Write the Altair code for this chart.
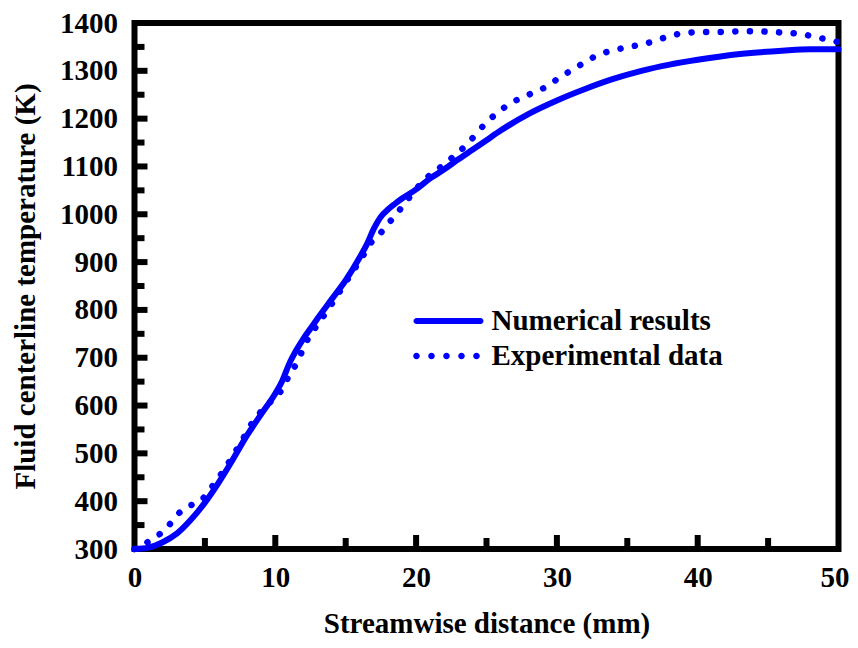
import altair as alt
import pandas as pd

# Numerical results (solid)
num_x = [0, 1, 2, 3, 4, 5, 6, 7, 8, 9, 10, 10.5, 11, 11.5, 12, 12.5, 13, 14, 15, 16, 16.5,
         17, 17.5, 18, 18.5, 19, 20, 21, 22, 23, 24, 25, 26, 28, 30, 32, 34, 36, 38, 40, 43, 46, 48, 50]
num_t = [300, 303, 314, 332, 361, 397, 440, 488, 538, 582, 625, 652, 688, 716, 740, 761, 782, 822, 862, 910, 937,
         970, 995, 1010, 1022, 1033, 1052, 1075, 1094, 1115, 1135, 1155, 1175, 1210, 1238, 1262, 1283, 1300,
         1313, 1323, 1335, 1342, 1345, 1345]

# Experimental data (dotted)
exp_x = [0, 0.85, 1.6, 2.3, 2.9, 3.7, 4.6, 5.5, 6.5, 7.5, 8.5, 9.5, 10.5, 11, 11.5, 11.9, 12.4, 12.9, 14, 15, 16.2, 16.7,
         17.4, 18.1, 18.7, 19.3, 20.5, 22.1, 23.6, 25, 26.5, 28.3, 29.2, 29.9, 30.8, 31.7, 32.5, 33.4, 34.3, 35.3,
         36.3, 37.3, 38.3, 39.4, 40.4, 41.4, 43.5, 45.4, 47.5, 48.5, 49.4, 50]
exp_t = [300, 313, 327, 344, 367, 388, 398, 430, 472, 520, 570, 603, 635, 664, 688, 713, 744, 765, 812, 858, 912, 937,
         958, 983, 1004, 1027, 1069, 1107, 1146, 1192, 1228, 1254, 1266, 1280, 1297, 1313, 1327, 1338, 1345, 1351,
         1357, 1366, 1375, 1380, 1381, 1381, 1383, 1381, 1376, 1370, 1364, 1360]

series_names = ["Numerical results", "Experimental data"]

x_major = [10, 20, 30, 40]
x_minor = [5, 15, 25, 35, 45]
y_major = [400, 500, 600, 700, 800, 900, 1000, 1100, 1200, 1300]
y_minor = [350, 450, 550, 650, 750, 850, 950, 1050, 1150, 1250, 1350]
x_labels = [0, 10, 20, 30, 40, 50]
y_labels = [300, 400, 500, 600, 700, 800, 900, 1000, 1100, 1200, 1300, 1400]

df = pd.concat([
    pd.DataFrame({"x": num_x, "t": num_t, "series": series_names[0], "order": range(len(num_x))}),
    pd.DataFrame({"x": exp_x, "t": exp_t, "series": series_names[1], "order": range(len(exp_x))}),
])

W, H = 704, 526
FONT = "Liberation Serif"
FS = 29
BLUE = "#0000ff"

xscale = alt.Scale(domain=[0, 50], nice=False, zero=False)
yscale = alt.Scale(domain=[300, 1400], nice=False, zero=False)

xaxis = alt.Axis(values=x_labels, format="d", ticks=False, tickSize=0, domain=False, grid=False,
                 labelFlush=False, labelPadding=14, titlePadding=17, title="Streamwise distance (mm)",
                 labelOffset={"condition": {"test": "datum.value === 50", "value": -4}, "value": 0})
yaxis = alt.Axis(values=y_labels, format="d", ticks=False, tickSize=0, domain=False, grid=False,
                 labelFlush=False, labelPadding=17, titlePadding=19, title="Fluid centerline temperature (K)")

# legend symbol shapes (unit = 18 px, symbol box starts at -1)
solid_path = ("M-0.833,-0.1667 H2.722 A0.1667,0.1667 0 0 1 2.722,0.1667 "
              "H-0.833 A0.1667,0.1667 0 0 1 -0.833,-0.1667 Z")
r = 0.183
dot_centers = [-0.833, 0.0, 0.833, 1.667, 2.5]
dots_path = " ".join(
    f"M{c - r:.3f},0 A{r},{r} 0 1,0 {c + r:.3f},0 A{r},{r} 0 1,0 {c - r:.3f},0 Z" for c in dot_centers
)

base = alt.Chart(df)

solid = base.transform_filter(alt.datum.series == series_names[0]).mark_line(
    strokeWidth=6, strokeCap="round", interpolate="monotone", color=BLUE
).encode(
    x=alt.X("x:Q", scale=xscale, axis=xaxis),
    y=alt.Y("t:Q", scale=yscale, axis=yaxis),
    order="order:Q",
)

dotted = base.transform_filter(alt.datum.series == series_names[1]).mark_line(
    strokeWidth=6.5, strokeCap="round", strokeDash=[0.1, 14.5], interpolate="monotone", color=BLUE
).encode(
    x=alt.X("x:Q", scale=xscale, axis=xaxis),
    y=alt.Y("t:Q", scale=yscale, axis=yaxis),
    order="order:Q",
)

legend_df = pd.DataFrame({"series": series_names, "x": [None, None], "t": [None, None]})
legend_layer = alt.Chart(legend_df).mark_point(filled=True, color=BLUE, opacity=1).encode(
    x=alt.X("x:Q", scale=xscale, axis=xaxis),
    y=alt.Y("t:Q", scale=yscale, axis=yaxis),
    shape=alt.Shape("series:N", scale=alt.Scale(domain=series_names, range=[solid_path, dots_path]),
                    legend=alt.Legend(
                        title=None, orient="none", legendX=279, legendY=280,
                        symbolSize=1296, symbolStrokeWidth=0, symbolFillColor=BLUE, symbolOpacity=1,
                        labelFont=FONT, labelFontWeight="bold", labelFontSize=FS, labelColor="black",
                        labelOffset=42, labelLimit=500, rowPadding=2, padding=0,
                    )),
)

def xticks(vals, length):
    return alt.Chart(pd.DataFrame({"x": vals})).mark_rule(color="black", strokeWidth=6).encode(
        x=alt.X("x:Q", scale=xscale, axis=xaxis),
        y=alt.value(H), y2=alt.value(H - 3 - length),
    )

def yticks(vals, length):
    return alt.Chart(pd.DataFrame({"t": vals})).mark_rule(color="black", strokeWidth=6).encode(
        y=alt.Y("t:Q", scale=yscale, axis=yaxis),
        x=alt.value(0), x2=alt.value(3 + length),
    )

chart = alt.layer(
    solid, dotted, legend_layer, xticks(x_major, 11), xticks(x_minor, 8), yticks(y_major, 10), yticks(y_minor, 7)
).properties(
    width=W, height=H,
    autosize=alt.AutoSizeParams(type="none"),
    padding={"left": 126.5, "top": 15, "right": 11, "bottom": 90},
).configure_view(
    stroke="black", strokeWidth=6
).configure_axis(
    labelFont=FONT, labelFontWeight="bold", labelFontSize=FS, labelColor="black",
    titleFont=FONT, titleFontWeight="bold", titleFontSize=FS, titleColor="black",
)

chart.save("out.html", embed_options={"renderer": "svg", "actions": False})
